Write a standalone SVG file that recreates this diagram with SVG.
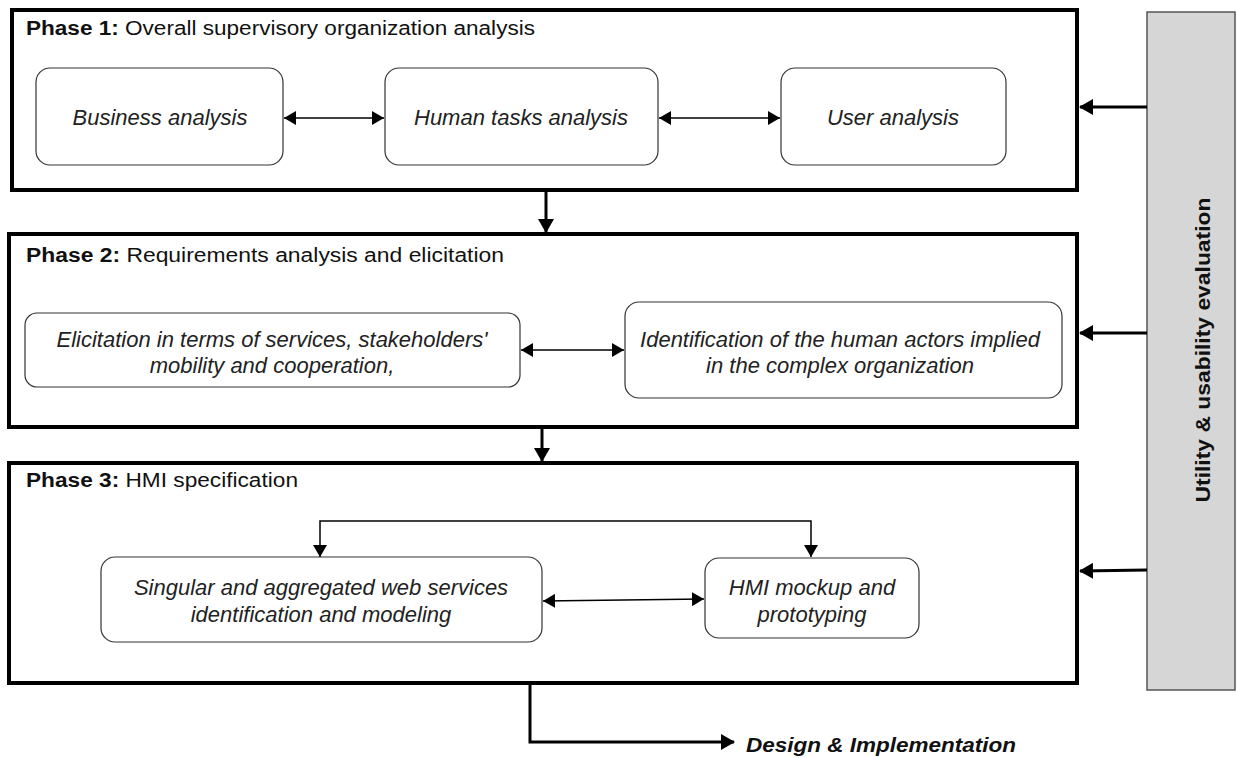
<svg xmlns="http://www.w3.org/2000/svg" width="1237" height="758" viewBox="0 0 1237 758">
<defs>
<marker id="ah" viewBox="0 0 12 14" refX="12" refY="7" markerWidth="12" markerHeight="14" markerUnits="userSpaceOnUse" orient="auto-start-reverse"><path d="M0,0 L12,7 L0,14 Z" fill="#000"/></marker>
<marker id="ahb" viewBox="0 0 14 16" refX="13" refY="8" markerWidth="14" markerHeight="16" markerUnits="userSpaceOnUse" orient="auto-start-reverse"><path d="M0,0 L14,8 L0,16 Z" fill="#000"/></marker>
</defs>
<style>
.phase{fill:#fff;stroke:#000;stroke-width:4}
.sub{fill:#fff;stroke:#333;stroke-width:1.2}
.ttl{font-family:"Liberation Sans",Arial,sans-serif;font-size:20px;fill:#111}
.b{font-weight:bold}
.it{font-family:"Liberation Sans",Arial,sans-serif;font-size:22px;font-style:italic;fill:#222;text-anchor:middle}
.thin{stroke:#000;stroke-width:1.5;fill:none}
.thick{stroke:#000;stroke-width:3;fill:none}
</style>
<rect width="1237" height="758" fill="#fff"/>
<g id="evaluation">
<rect x="1147" y="12" width="88" height="678" fill="#d6d6d6" stroke="#555" stroke-width="1.5"/>
<text transform="translate(1210,350) rotate(-90)" text-anchor="middle" font-family="Liberation Sans,Arial,sans-serif" font-size="21" font-weight="bold" fill="#111" textLength="305" lengthAdjust="spacingAndGlyphs">Utility &amp; usability evaluation</text>
</g>
<g id="phase1">
<rect class="phase" x="12" y="10" width="1065" height="180"/>
<text class="ttl" x="26" y="35" textLength="509" lengthAdjust="spacingAndGlyphs"><tspan class="b">Phase 1:</tspan> Overall supervisory organization analysis</text>
</g>
<g id="business">
<rect class="sub" x="36" y="68" width="247" height="97" rx="14"/>
<text class="it" x="160" y="125">Business analysis</text>
</g>
<g id="humantasks">
<rect class="sub" x="385" y="68" width="273" height="97" rx="14"/>
<text class="it" x="521" y="125">Human tasks analysis</text>
</g>
<g id="user">
<rect class="sub" x="781" y="68" width="225" height="97" rx="14"/>
<text class="it" x="893" y="125">User analysis</text>
</g>
<g id="phase2">
<rect class="phase" x="9" y="234" width="1068" height="193"/>
<text class="ttl" x="26" y="262" textLength="478" lengthAdjust="spacingAndGlyphs"><tspan class="b">Phase 2:</tspan> Requirements analysis and elicitation</text>
</g>
<g id="elicitation">
<rect class="sub" x="25" y="313" width="495" height="74" rx="12"/>
<text class="it" x="272" y="347">Elicitation in terms of services, stakeholders'</text>
<text class="it" x="272" y="373">mobility and cooperation,</text>
</g>
<g id="identification">
<rect class="sub" x="625" y="302" width="437" height="96" rx="14"/>
<text class="it" x="840" y="347">Identification of the human actors implied</text>
<text class="it" x="840" y="373">in the complex organization</text>
</g>
<g id="phase3">
<rect class="phase" x="9" y="463" width="1068" height="220"/>
<text class="ttl" x="26" y="487" textLength="272" lengthAdjust="spacingAndGlyphs"><tspan class="b">Phase 3:</tspan> HMI specification</text>
</g>
<g id="singular">
<rect class="sub" x="101" y="557" width="441" height="85" rx="14"/>
<text class="it" x="321" y="595">Singular and aggregated web services</text>
<text class="it" x="321" y="622">identification and modeling</text>
</g>
<g id="hmi">
<rect class="sub" x="705" y="558" width="214" height="80" rx="14"/>
<text class="it" x="812" y="595">HMI mockup and</text>
<text class="it" x="812" y="622">prototyping</text>
</g>
<g id="design">
<text x="746" y="752" font-family="Liberation Sans,Arial,sans-serif" font-size="21" font-weight="bold" font-style="italic" fill="#111" textLength="270" lengthAdjust="spacingAndGlyphs">Design &amp; Implementation</text>
</g>
<g id="connectors">
<line class="thin" x1="284" y1="118" x2="384" y2="118" marker-start="url(#ah)" marker-end="url(#ah)"/>
<line class="thin" x1="659" y1="118" x2="780" y2="118" marker-start="url(#ah)" marker-end="url(#ah)"/>
<line class="thin" x1="521" y1="350" x2="624" y2="350" marker-start="url(#ah)" marker-end="url(#ah)"/>
<line class="thin" x1="543" y1="601" x2="704" y2="599" marker-start="url(#ah)" marker-end="url(#ah)"/>
<path class="thin" d="M320,557 V521 H811 V557" marker-start="url(#ah)" marker-end="url(#ah)"/>
<line class="thick" x1="546" y1="192" x2="546" y2="232" marker-end="url(#ahb)"/>
<line class="thick" x1="542" y1="429" x2="542" y2="461" marker-end="url(#ahb)"/>
<line class="thick" x1="1147" y1="107" x2="1080" y2="107" marker-end="url(#ahb)"/>
<line class="thick" x1="1147" y1="333" x2="1080" y2="333" marker-end="url(#ahb)"/>
<line class="thick" x1="1147" y1="570" x2="1080" y2="571" marker-end="url(#ahb)"/>
<path class="thick" d="M530,683 V742 H734" marker-end="url(#ahb)"/>
</g>
</svg>
